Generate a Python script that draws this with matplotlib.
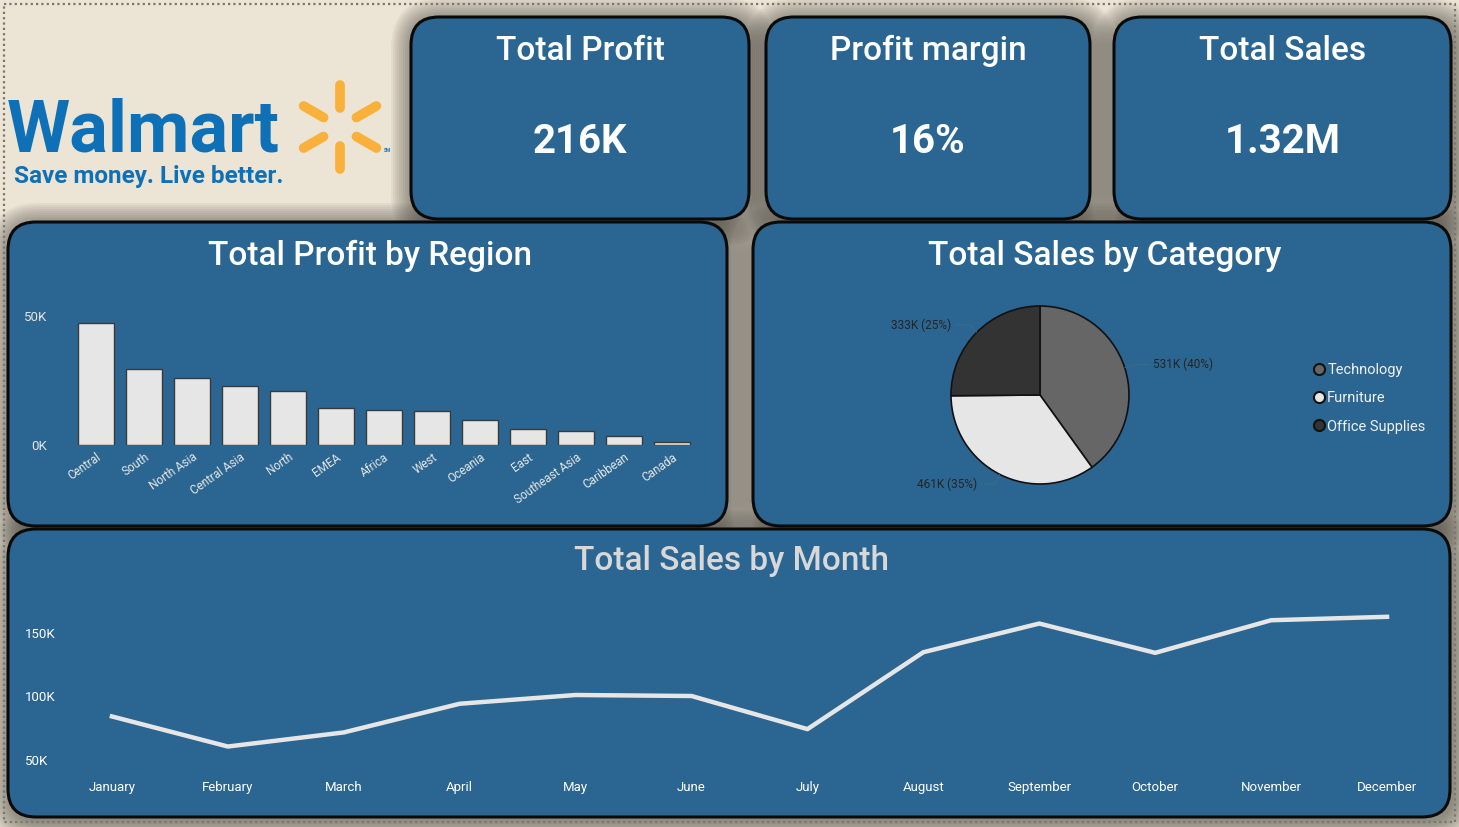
import numpy as np
import matplotlib.pyplot as plt
from matplotlib.patches import FancyBboxPatch, Rectangle
from matplotlib.lines import Line2D

plt.rcParams['font.family'] = ['Roboto', 'DejaVu Sans']

W, H = 1459, 827

kpi_titles = ['Total Profit', 'Profit margin', 'Total Sales']
kpi_values = ['216K', '16%', '1.32M']

regions = ['Central', 'South', 'North Asia', 'Central Asia', 'North', 'EMEA', 'Africa',
           'West', 'Oceania', 'East', 'Southeast Asia', 'Caribbean', 'Canada']
region_profit = [47400, 29500, 26100, 22700, 21100, 14500, 13600, 13300, 9600, 6300, 5300, 3600, 1000]
region_ticks = [0, 50000]
region_tick_labels = ['0K', '50K']

categories = ['Technology', 'Furniture', 'Office Supplies']
category_sales = [531000, 461000, 333000]
category_colors = ['#666666', '#E6E6E6', '#333333']

months = ['January', 'February', 'March', 'April', 'May', 'June', 'July',
          'August', 'September', 'October', 'November', 'December']
month_sales = [84200, 60500, 71600, 94200, 101100, 100300, 74200,
               134800, 157400, 134300, 160000, 162700]
month_ticks = [50000, 100000, 150000]
month_tick_labels = ['50K', '100K', '150K']

# ---- colours
BEIGE = '#ECE4D4'
CARD = '#2A6691'
SHADOW = '#3D3A35'
LIGHT = '#E6E6E6'

# card boxes in pixels (x0, y0, x1, y1)
kpi_boxes = [(411, 17, 749, 219), (766, 17, 1090, 219), (1114, 17, 1451, 219)]
region_box = (8, 222, 727, 526)
category_box = (753, 222, 1451, 526)
month_box = (8, 529, 1450, 817)
all_boxes = kpi_boxes + [region_box, category_box, month_box]


# convert a pixel box to a figure fraction rect
def frac(x0, y0, x1, y1):
    return [x0 / W, 1 - y1 / H, (x1 - x0) / W, (y1 - y0) / H]


# soft shadow made from stacked rounded boxes
def draw_shadow(ax, box, rad=28):
    x0, y0, x1, y1 = box
    for k in range(12):
        g = 1 + 2 * k
        ax.add_patch(FancyBboxPatch((x0 - g + 3, y0 - g + 4), x1 - x0 + 2 * g, y1 - y0 + 2 * g,
                                    boxstyle='round,pad=0,rounding_size=%d' % (rad + g),
                                    facecolor=SHADOW, edgecolor='none', alpha=0.055))


# the blue card with black outline
def draw_card(ax, box, rad=28):
    x0, y0, x1, y1 = box
    ax.add_patch(FancyBboxPatch((x0, y0), x1 - x0, y1 - y0,
                                boxstyle='round,pad=0,rounding_size=%d' % rad,
                                facecolor=CARD, edgecolor='#0A0A0A', linewidth=2.2))


fig = plt.figure(figsize=(W / 100, H / 100), dpi=100, facecolor=BEIGE)

# background axes in pixel units
bg = fig.add_axes([0, 0, 1, 1])
bg.set_xlim(0, W)
bg.set_ylim(H, 0)
bg.axis('off')

for b in all_boxes:
    draw_shadow(bg, b)
for b in all_boxes:
    draw_card(bg, b)

# dotted frame round the page
bg.add_patch(Rectangle((4, 4), W - 8, H - 9, fill=False, edgecolor='#7A7670',
                       linewidth=1.6, linestyle=(0, (1, 1.4))))

# ---- logo
bg.text(7, 152, 'Walmart', fontsize=52, fontweight='bold', color='#0E71B8', va='baseline')
bg.text(14, 183, 'Save money. Live better.', fontsize=17.5, fontweight='bold',
        color='#0E71B8', va='baseline')
cx, cy = 340, 127
for a in [90, 30, -30, -90, 150, 210]:
    t = np.deg2rad(a)
    bg.plot([cx + 19 * np.cos(t), cx + 42 * np.cos(t)], [cy - 19 * np.sin(t), cy - 42 * np.sin(t)],
            color='#F9B13C', linewidth=7, solid_capstyle='round')
bg.text(384, 152, 'SM', fontsize=3.5, color='#0E71B8', fontweight='bold')

# ---- KPI cards
for (x0, y0, x1, y1), t, v in zip(kpi_boxes, kpi_titles, kpi_values):
    xc = (x0 + x1) / 2
    bg.text(xc, 51, t, fontsize=24, fontweight='medium', color='white', ha='center', va='center')
    bg.text(xc, 142, v, fontsize=29, fontweight='bold', color='white', ha='center', va='center')

# chart titles
bg.text(370, 256, 'Total Profit by Region', fontsize=24, fontweight='medium', color='white',
        ha='center', va='center')
bg.text(1105, 256, 'Total Sales by Category', fontsize=24, fontweight='medium', color='white',
        ha='center', va='center')
bg.text(731, 561, 'Total Sales by Month', fontsize=24, fontweight='medium', color='#D8D8D8',
        ha='center', va='center')

# ---- bar chart
ax1 = fig.add_axes(frac(72, 316, 696, 445))
ax1.bar(range(len(regions)), region_profit, width=0.75, color=LIGHT, edgecolor='#3A3A3A', linewidth=1)
ax1.set_xlim(-0.5, len(regions) - 0.5)
ax1.set_ylim(0, 50000)
ax1.set_yticks(region_ticks, region_tick_labels)
ax1.set_xticks(range(len(regions)), regions, rotation=35, ha='right', rotation_mode='anchor')
ax1.tick_params(length=0, colors=LIGHT, labelsize=8.5)
ax1.tick_params(axis='y', pad=18, labelsize=9.5)
ax1.tick_params(axis='x', pad=4)
for s in ax1.spines.values():
    s.set_visible(False)
ax1.patch.set_alpha(0)

# ---- pie chart
ax2 = fig.add_axes(frac(951, 306, 1129, 484))
wedges, _ = ax2.pie(category_sales, colors=category_colors, startangle=90, counterclock=False,
                    wedgeprops=dict(edgecolor='#111111', linewidth=1.2))
ax2.set_xlim(-1, 1)
ax2.set_ylim(-1, 1)
total = sum(category_sales)
for w, v in zip(wedges, category_sales):
    mid = np.deg2rad((w.theta1 + w.theta2) / 2)
    c, s = np.cos(mid), np.sin(mid)
    p2 = (1.12 * c, 1.12 * s)
    side = 1 if c > 0 else -1
    lx = p2[0] + 0.2 * side
    ax2.plot([c, p2[0], lx - 0.03 * side], [s, p2[1], p2[1]], color='#5A6E80', linewidth=0.8,
             linestyle=':', clip_on=False)
    ax2.text(lx, p2[1], '%dK (%d%%)' % (round(v / 1000), round(100 * v / total)), fontsize=8.5,
             color='#252423', ha='left' if side > 0 else 'right', va='center', clip_on=False)

handles = [Line2D([], [], marker='o', linestyle='', markerfacecolor=c, markeredgecolor='#111111',
                  markeredgewidth=1.5, markersize=8) for c in category_colors]
fig.legend(handles, categories, loc='upper left', bbox_to_anchor=(1306 / W, 1 - 356 / H),
           frameon=False, labelcolor='#F0F0F0', fontsize=10.5, handlelength=0.8,
           handletextpad=0.15, labelspacing=0.97, borderpad=0)

# ---- line chart
ax3 = fig.add_axes(frac(25, 605, 1445, 770))
ax3.plot(range(len(months)), month_sales, color=LIGHT, linewidth=3.2)
ax3.set_xlim(-0.75, len(months) - 0.5)
ax3.set_ylim(42000, 172000)
ax3.set_yticks(month_ticks, month_tick_labels)
ax3.set_xticks(range(len(months)), months)
ax3.tick_params(length=0, colors='white', labelsize=9.5)
ax3.tick_params(axis='y', pad=0)
ax3.tick_params(axis='x', pad=8)
for lab in ax3.get_yticklabels():
    lab.set_ha('left')
for s in ax3.spines.values():
    s.set_visible(False)
ax3.patch.set_alpha(0)

fig.savefig('out.png', dpi=100, facecolor=BEIGE)
